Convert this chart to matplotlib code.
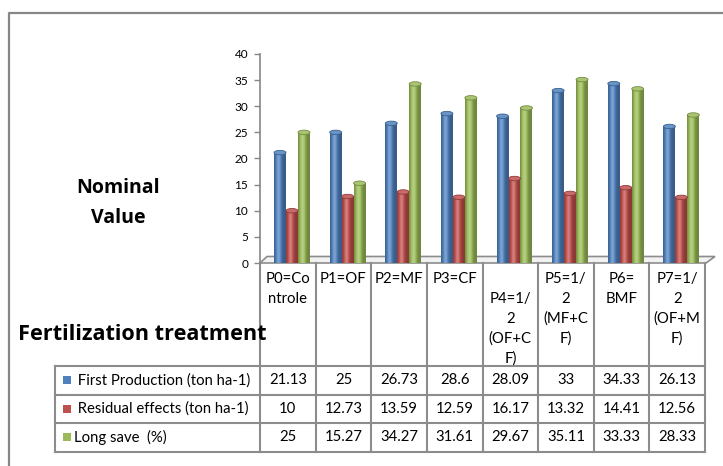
import matplotlib.pyplot as plt
import numpy as np
from matplotlib.patches import Rectangle, Ellipse, Polygon

# fertilization treatments (wrapped the way the table header wraps them)
treatments = ['P0=Co\nntrole', 'P1=OF', 'P2=MF', 'P3=CF',
              'P4=1/\n2\n(OF+C\nF)', 'P5=1/\n2\n(MF+C\nF)', 'P6=\nBMF',
              'P7=1/\n2\n(OF+M\nF)']
first_production = [21.13, 25, 26.73, 28.6, 28.09, 33, 34.33, 26.13]
residual_effects = [10, 12.73, 13.59, 12.59, 16.17, 13.32, 14.41, 12.56]
long_save = [25, 15.27, 34.27, 31.61, 29.67, 35.11, 33.33, 28.33]
series_names = [' First Production (ton ha-1)', ' Residual effects (ton ha-1)', 'Long save  (%)']
series_values = [first_production, residual_effects, long_save]
series_colors = ['#4F81BD', '#C0504D', '#9BBB59']
yticks = list(range(0, 41, 5))

plt.rcParams['font.family'] = ['Lato', 'DejaVu Sans']

W, H = 723, 466
fig = plt.figure(figsize=(W / 100, H / 100), dpi=100)
renderer = fig.canvas.get_renderer()

# overlay in pixel units for the frame, table and titles
ov = fig.add_axes([0, 0, 1, 1])
ov.set_xlim(0, W)
ov.set_ylim(H, 0)
ov.axis('off')

grey = '#8c8c8c'
ov.plot([9, 9, W], [H, 13, 13], color='#878787', lw=1.6)

# plot area
x0, x1, y0, y1 = 260, 705, 263, 54
ax = fig.add_axes([x0 / W, 1 - y0 / H, (x1 - x0) / W, (y0 - y1) / H])
ax.patch.set_alpha(0)

# floor slab
ov.add_patch(Polygon([(260, 263), (706, 263), (715, 256.5), (267, 256.5)],
                     closed=True, facecolor='#f2f2f2', edgecolor=grey, lw=1.2, zorder=1))


def shade(color, t):
    c = np.array(plt.matplotlib.colors.to_rgb(color))
    s = 0.72 + 0.55 * np.exp(-((t - 0.38) / 0.24) ** 2)
    out = np.where(s[:, None] <= 1, c * s[:, None], c + (1 - c) * (s[:, None] - 1))
    return np.clip(out, 0, 1)


def cylinder(ax, xc, h, w, color):
    t = np.linspace(0, 1, 64)
    img = shade(color, t)[None, :, :]
    ax.imshow(img, extent=(xc - w / 2, xc + w / 2, 0, h), aspect='auto',
              interpolation='bilinear', zorder=2)
    eh = 0.85
    c = np.array(plt.matplotlib.colors.to_rgb(color))
    ax.add_patch(Ellipse((xc, h), w, eh, facecolor=c + (1 - c) * 0.15,
                         edgecolor=c * 0.75, lw=0.6, zorder=3))


def fit(txt, width_px):
    bb = txt.get_window_extent(renderer)
    txt.set_fontsize(txt.get_fontsize() * width_px / bb.width)
    return txt.get_fontsize()


bw = 0.215
off = 0.075
x = np.arange(len(treatments))
for k, (vals, col) in enumerate(zip(series_values, series_colors)):
    for i, v in enumerate(vals):
        cylinder(ax, x[i] + off + (k - 1) * bw, v, bw, col)

ax.set_xlim(-0.5, len(treatments) - 0.5)
ax.set_ylim(0, 40)
ax.set_yticks(yticks)
ax.set_xticks([])
for s in ['top', 'right', 'bottom']:
    ax.spines[s].set_visible(False)
ax.spines['left'].set_color('#868686')
ax.spines['left'].set_linewidth(1.2)
ax.tick_params(axis='y', length=4, width=1, color='#868686', labelsize=8.5, pad=4.5)

# data table
fs = 10.7
col_w = (x1 - x0) / len(treatments)
edges = [x0 + col_w * i for i in range(len(treatments) + 1)]
rows = [366, 394.5, 423, 451.5]
for e in edges:
    ov.plot([e, e], [263, rows[-1]], color=grey, lw=1.5)
ov.plot([55, 55], [rows[0], rows[-1]], color=grey, lw=1.5)
for r in rows:
    ov.plot([55, edges[-1]], [r, r], color=grey, lw=1.5)

for i, lab in enumerate(treatments):
    cx = (edges[i] + edges[i + 1]) / 2
    top = 299 if lab.startswith('P4') else 279
    for j, line in enumerate(lab.split('\n')):
        ov.text(cx, top + 19.7 * j, line, ha='center', va='center', fontsize=fs)

for k, (name, vals, col) in enumerate(zip(series_names, series_values, series_colors)):
    yc = (rows[k] + rows[k + 1]) / 2
    ov.add_patch(Rectangle((63, yc - 4), 8, 8, facecolor=col, edgecolor='none'))
    ov.text(74, yc, name, ha='left', va='center', fontsize=fs)
    for i, v in enumerate(vals):
        cx = (edges[i] + edges[i + 1]) / 2
        ov.text(cx, yc, f'{v:g}', ha='center', va='center', fontsize=fs)

# axis titles
bold = dict(fontweight='bold', family=['Open Sans', 'DejaVu Sans'])
t1 = ov.text(118, 193, 'Nominal', ha='center', va='baseline', fontsize=13, **bold)
size = fit(t1, 83)
ov.text(118, 223, 'Value', ha='center', va='baseline', fontsize=size, **bold)
t3 = ov.text(18, 340, 'Fertilization treatment', ha='left', va='baseline', fontsize=14, **bold)
fit(t3, 250)

fig.savefig('out.png', dpi=100)
